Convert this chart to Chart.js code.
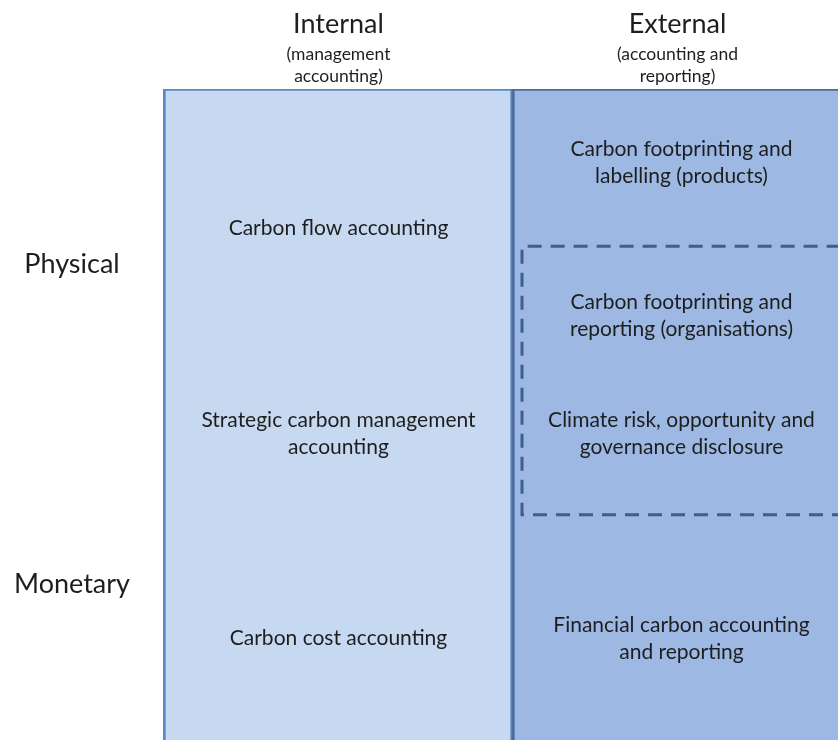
<!DOCTYPE html>
<html>
<head>
<meta charset="utf-8">
<script src="https://cdn.jsdelivr.net/npm/chart.js@4/dist/chart.umd.min.js"></script>
<style>
html,body{margin:0;padding:0;overflow:hidden;background:#fff;width:838px;height:740px;}
#wrap{position:absolute;left:0;top:0;width:864px;height:760px;}
</style>
</head>
<body>
<div id="wrap"><canvas id="c" width="864" height="760"></canvas></div>
<script>
// ---- data ----
const columns = ['Internal', 'External'];
const columnNotes = [['(management', 'accounting)'], ['(accounting and', 'reporting)']];
const columnSpan = [[0, 100], [0, 100]];
const rowLabels = ['Physical', 'Monetary'];
const rowLevels = [73.5, 25.0];
const internalLabels = [
  ['Carbon flow accounting'],
  ['Strategic carbon management', 'accounting'],
  ['Carbon cost accounting']
];
const internalLevels = [79.0, 47.9, 16.9];
const externalLabels = [
  ['Carbon footprinting and', 'labelling (products)'],
  ['Carbon footprinting and', 'reporting (organisations)'],
  ['Climate risk, opportunity and', 'governance disclosure'],
  ['Financial carbon accounting', 'and reporting']
];
const externalLevels = [88.9, 65.7, 47.9, 16.9];
const disclosureRange = [35.6, 76.2];

const FONT = 'Lato, "Open Sans", sans-serif';
const TEXT = '#1e1e1e';

const textPlugin = {
  id: 'diagramText',
  afterDatasetsDraw(chart) {
    const ctx = chart.ctx;
    const xs = chart.scales.x, ys = chart.scales.y;
    const meta = chart.getDatasetMeta(0);
    ctx.save();
    // dashed disclosure box
    const bar = meta.data[1];
    const left = bar.x - bar.width / 2 + 10;
    const top = ys.getPixelForValue(disclosureRange[1]);
    const bottom = ys.getPixelForValue(disclosureRange[0]);
    ctx.strokeStyle = '#3d5f8c';
    ctx.lineWidth = 3;
    ctx.setLineDash([14, 9]);
    ctx.beginPath();
    ctx.moveTo(chart.width + 5, bottom);
    ctx.lineTo(left, bottom);
    ctx.lineTo(left, top);
    ctx.lineTo(chart.width + 5, top);
    ctx.stroke();
    ctx.setLineDash([]);

    ctx.fillStyle = TEXT;
    ctx.textAlign = 'center';
    ctx.textBaseline = 'middle';
    const drawBlock = (lines, cx, cy, lh) => {
      const y0 = cy - (lines.length - 1) * lh / 2;
      lines.forEach((l, i) => ctx.fillText(l, cx, y0 + i * lh));
    };
    ctx.font = '21px ' + FONT;
    const cx0 = xs.getPixelForValue(0) + 1, cx1 = xs.getPixelForValue(1) - 5;
    internalLabels.forEach((l, i) => drawBlock(l, cx0, ys.getPixelForValue(internalLevels[i]), 27));
    externalLabels.forEach((l, i) => drawBlock(l, cx1, ys.getPixelForValue(externalLevels[i]), 27));
    // headers
    const hx = [cx0, cx1 - 4];
    columns.forEach((c, i) => {
      ctx.font = '27px ' + FONT;
      ctx.fillText(c, hx[i], 24);
      ctx.font = '17.5px ' + FONT;
      drawBlock(columnNotes[i], hx[i], 65, 22);
    });
    // row labels
    ctx.font = '27px ' + FONT;
    rowLabels.forEach((r, i) => ctx.fillText(r, 72, ys.getPixelForValue(rowLevels[i])));
    ctx.restore();
  }
};

new Chart(document.getElementById('c'), {
  type: 'bar',
  data: {
    labels: columns,
    datasets: [{
      data: columnSpan,
      backgroundColor: ['#c6d9f1', '#9db8e3'],
      borderColor: ['#5b88c4', '#4a6c9e'],
      borderWidth: {top: 2, left: 3, right: 2, bottom: 0},
      borderSkipped: false,
      barPercentage: 1,
      categoryPercentage: 1
    }]
  },
  options: {
    responsive: false,
    animation: false,
    events: [],
    layout: {padding: {left: 163, top: 89, right: 3, bottom: 10}},
    plugins: {legend: {display: false}, tooltip: {enabled: false}},
    scales: {
      x: {display: false},
      y: {display: false, min: 0, max: 100}
    }
  },
  plugins: [textPlugin]
});
</script>
</body>
</html>
